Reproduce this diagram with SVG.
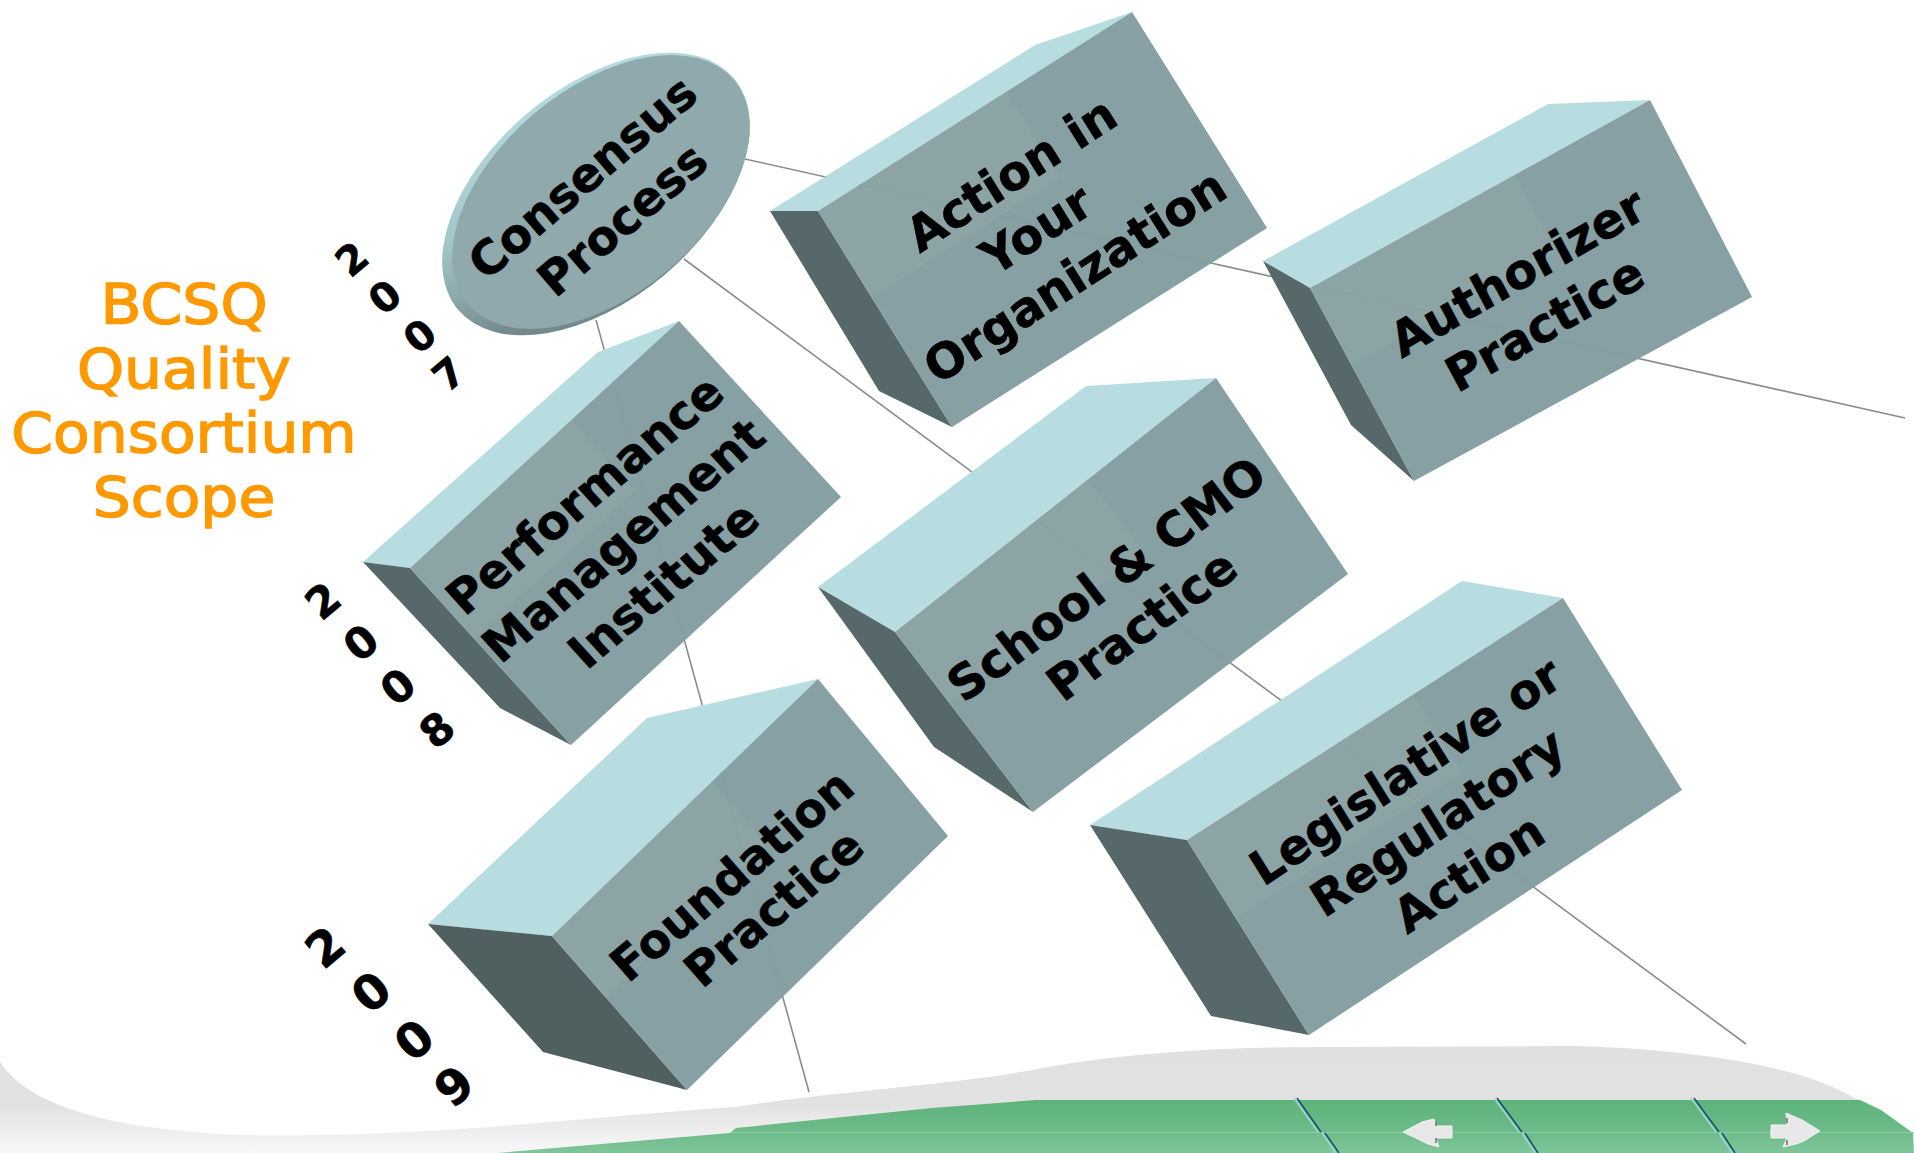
<svg xmlns="http://www.w3.org/2000/svg" width="1914" height="1153" viewBox="0 0 1914 1153">
<style>
.front{fill:#849ea1;fill-opacity:.975}
.shine{fill:#fff;fill-opacity:.05}
.top{fill:#b8dde0}
.side{fill:#566869}
.lbl{font-family:"DejaVu Sans",sans-serif;font-weight:700;fill:#000;stroke:#000;stroke-width:.6;text-anchor:middle}
.scope{font-family:"DejaVu Sans",sans-serif;font-size:56px;fill:#ff9900;stroke:#ff9900;stroke-width:1.400;text-anchor:middle}
.conn{stroke:#8c8c8c;stroke-width:1.6;fill:none}
.seam{stroke:#0f5570;stroke-width:1.500;fill:none}
.seamL{stroke:#a9d3d0;stroke-width:1.500;fill:none}
.nav{fill:#e8e8e8;stroke:#f4f4f4;stroke-width:1}
.speck{stroke:#8a8a8a;stroke-width:2;fill:none}
</style>
<defs>
<linearGradient id="gr" x1="0" y1="0" x2="0" y2="1"><stop offset="0" stop-color="#e0e0e0"/><stop offset=".55" stop-color="#e2e2e2"/><stop offset="1" stop-color="#f8f8f8"/></linearGradient>
<linearGradient id="gn" gradientUnits="userSpaceOnUse" x1="0" y1="1100" x2="0" y2="1153"><stop offset="0" stop-color="#5db37b"/><stop offset=".6" stop-color="#6dbb8a"/><stop offset="1" stop-color="#80c69a"/></linearGradient>
<linearGradient id="rim" x1=".6" y1="0" x2=".2" y2=".8"><stop offset="0" stop-color="#b5dade"/><stop offset=".5" stop-color="#a0c4c8"/><stop offset="1" stop-color="#73898c"/></linearGradient>
</defs>
<rect width="1914" height="1153" fill="#fff"/>
<g id="footer">
<path d="M0 1062C25 1100 90 1125 208 1133C260 1138 380 1135 490 1127C580 1120 660 1112 736 1107C840 1090 960 1085 1042 1068C1130 1052 1230 1047 1324 1047L1557 1046C1650 1046 1780 1060 1839 1090C1870 1105 1900 1125 1914 1140V1153H0Z" fill="url(#gr)"/>
<path d="M497 1153L730 1133L736 1128L932 1108L1036 1100H1860L1881 1110L1913 1133L1914 1153Z" fill="url(#gn)"/>
<path d="M730 1132.500H1914" stroke="#8fcfa8" stroke-width="1" fill="none"/>
<path class="seamL" d="M1294 1098L1318 1132M1322 1133L1336 1153M1494 1098L1519 1132M1522 1133L1535 1153M1691 1098L1716 1132M1719 1133L1732 1153"/>
<path class="seam" d="M1297 1098L1321 1132M1325 1133L1339 1153M1497 1098L1522 1132M1525 1133L1538 1153M1694 1098L1719 1132M1722 1133L1735 1153"/>
<path class="nav" d="M1403 1132L1422 1122L1434 1119L1436 1126H1452V1138H1436L1439 1147L1428 1144L1422 1141Z"/>
<path class="speck" d="M1436 1121V1126M1436 1138V1143"/>
<path class="nav" d="M1820 1131L1802 1120L1786 1113L1787 1125H1771V1138H1787L1783 1147L1796 1144L1804 1141Z"/>
<path class="speck" d="M1787 1118V1123M1787 1140V1145"/>
</g>
<g id="connectors">
<path class="conn" d="M745 159L1905 418"/>
<path class="conn" d="M684 259L1746 1044"/>
<path class="conn" d="M596 320L809 1092"/>
</g>
<g id="consensus">
<ellipse cx="596" cy="194" rx="180" ry="106" transform="rotate(-40 596 194)" fill="url(#rim)"/>
<ellipse cx="601" cy="192" rx="174" ry="103" transform="rotate(-40 601 192)" fill="#90a9ac"/>
<g transform="matrix(.758 -.652 .65 .76 601 199)" class="lbl" font-size="47"><text y="-12">Consensus</text><text x="3" y="46">Process</text></g>
</g>
<g id="action">
<path class="top" d="M770 211L1035 45L1132 12L818 211Z"/><path class="side" d="M770 211L818 211L952 427L879 391Z"/><path class="front" d="M818 211L1132 12L1267 228L952 427Z"/><path class="shine" d="M818 211L1006 92L1060 178L872 297Z"/>
<g transform="matrix(.839 -.545 .53 .85 1043 225)" class="lbl" font-size="48"><text y="-43">Action in</text><text x="-8" y="17">Your</text><text y="77">Organization</text></g>
</g>
<g id="authorizer">
<path class="top" d="M1263 261L1548 104L1650 100L1310 288Z"/><path class="side" d="M1263 261L1310 288L1414 481L1351 425Z"/><path class="front" d="M1310 288L1650 100L1752 297L1414 481Z"/><path class="shine" d="M1310 288L1514 175L1556 252L1352 365Z"/>
<g transform="matrix(.866 -.5 .47 .88 1531 298)" class="lbl" font-size="48"><text y="-12">Authorizer</text><text y="46">Practice</text></g>
</g>
<g id="performance">
<path class="top" d="M363 562L598 352L679 321L410 568Z"/><path class="side" d="M363 562L410 568L571 745L500 708Z"/><path class="front" d="M410 568L679 321L841 497L571 745Z"/><path class="shine" d="M410 568L571 420L635 491L474 639Z"/>
<g transform="matrix(.766 -.643 .67 .74 623 540)" class="lbl" font-size="47.500"><text x="2" y="-43">Performance</text><text y="17">Management</text><text y="77">Institute</text></g>
</g>
<g id="school">
<path class="top" d="M818 587L1086 386L1216 378L895 632Z"/><path class="side" d="M818 587L895 632L1033 812L934 747Z"/><path class="front" d="M895 632L1216 378L1348 574L1033 812Z"/><path class="shine" d="M895 632L1088 480L1143 552L950 704Z"/>
<g transform="matrix(.809 -.588 .61 .79 1124 602)" class="lbl" font-size="48"><text y="-12">School &amp; CMO</text><text y="46">Practice</text></g>
</g>
<g id="foundation">
<path class="top" d="M428 924L647 718L818 679L552 936Z"/><path class="side" d="M428 924L552 936L687 1090L543 1052Z" style="fill:#505f60"/><path class="front" d="M552 936L818 679L948 836L687 1090Z"/><path class="shine" d="M552 936L712 782L766 844L606 998Z"/>
<g transform="matrix(.766 -.643 .66 .75 753 892)" class="lbl" font-size="47"><text x="-5" y="-10">Foundation</text><text x="5" y="42">Practice</text></g>
</g>
<g id="legislative">
<path class="top" d="M1090 825L1462 581L1563 598L1187 840Z"/><path class="side" d="M1090 825L1187 840L1309 1035L1211 1016Z"/><path class="front" d="M1187 840L1563 598L1682 790L1309 1035Z"/><path class="shine" d="M1187 840L1413 695L1462 773L1236 918Z"/>
<g transform="matrix(.829 -.559 .53 .85 1437 822)" class="lbl" font-size="47.500"><text y="-43">Legislative or</text><text y="17">Regulatory</text><text y="77">Action</text></g>
</g>
<g id="scope" class="scope">
<text transform="translate(184 323) scale(1.07 1)">BCSQ</text><text transform="translate(184 388) scale(1.07 1)">Quality</text><text transform="translate(184 452) scale(1.07 1)">Consortium</text><text transform="translate(184 516) scale(1.07 1)">Scope</text>
</g>
<g id="years" class="lbl">
<g font-size="40">
<text transform="matrix(.766 -.643 .643 .766 352 259)" y="14">2</text>
<text transform="matrix(.766 -.643 .643 .766 385 297)" y="14">0</text>
<text transform="matrix(.766 -.643 .643 .766 420 336)" y="14">0</text>
<text transform="matrix(.766 -.643 .643 .766 449 374)" y="14">7</text>
</g>
<g font-size="43">
<text transform="matrix(.766 -.643 .643 .766 323 601)" y="15">2</text>
<text transform="matrix(.766 -.643 .643 .766 361 643)" y="15">0</text>
<text transform="matrix(.766 -.643 .643 .766 398 687)" y="15">0</text>
<text transform="matrix(.766 -.643 .643 .766 437 730)" y="15">8</text>
</g>
<g font-size="48">
<text transform="matrix(.766 -.643 .643 .766 325 947)" y="17">2</text>
<text transform="matrix(.766 -.643 .643 .766 371 992)" y="17">0</text>
<text transform="matrix(.766 -.643 .643 .766 414 1040)" y="17">0</text>
<text transform="matrix(.766 -.643 .643 .766 454 1086)" y="17">9</text>
</g>
</g>
</svg>
